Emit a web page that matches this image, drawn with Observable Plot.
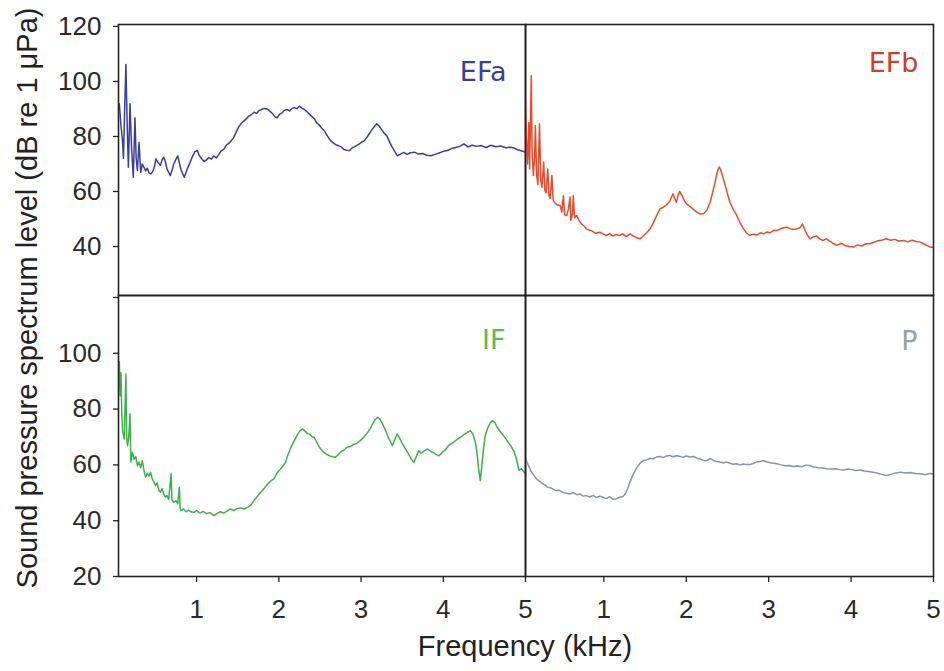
<!DOCTYPE html>
<html><head><meta charset="utf-8">
<script src="https://cdn.jsdelivr.net/npm/d3@7"></script>
<script src="https://cdn.jsdelivr.net/npm/@observablehq/plot@0.6"></script>
<style>
body{margin:0;background:#fff;}
#wrap{position:relative;width:944px;height:671px;overflow:hidden;font-family:"Liberation Sans",Arial,sans-serif;background:#fff;}
#wrap svg{position:absolute;overflow:visible;}
.ttl{position:absolute;font-size:29px;line-height:29px;color:#222;white-space:nowrap;}
</style></head><body><div id="wrap"></div>
<script>
// Frequency ticks (kHz) and level ticks (dB re 1 µPa)
const freqTicks = [1, 2, 3, 4, 5];
const topLevelTicks = [40, 60, 80, 100, 120];
const bottomLevelTicks = [20, 40, 60, 80, 100, 120];
const panelNames = ["EFa", "EFb", "IF", "P"];

// [frequency kHz, level dB]
const efa = [[0.06,91.9],[0.08,84],[0.10,78],[0.11,72],[0.125,90],[0.14,106.2],[0.155,85],[0.17,68.8],[0.18,80],[0.19,91.9],[0.21,75],[0.23,65.2],[0.25,86.8],[0.265,72],[0.28,67.6],[0.30,77.9],[0.32,67],[0.34,70],[0.36,68.8],[0.38,67.5],[0.40,68.5],[0.42,66.8],[0.445,66.4],[0.47,67.5],[0.49,69.5],[0.505,71.9],[0.53,70.5],[0.56,69.5],[0.58,71.5],[0.60,72.5],[0.62,70.8],[0.64,68.2],[0.66,67],[0.68,65.8],[0.70,67.5],[0.72,69.8],[0.745,71.5],[0.77,73],[0.79,70.5],[0.81,68],[0.83,66.5],[0.85,65.2],[0.87,66.8],[0.89,68.5],[0.92,70.5],[0.95,72.8],[0.98,74.5],[1.01,74.9],[1.03,73.2],[1.06,72],[1.09,70.9],[1.12,71.5],[1.15,72.3],[1.18,71.8],[1.21,72.9],[1.24,72.2],[1.27,73.5],[1.30,74.8],[1.33,75.3],[1.36,76.8],[1.39,77.5],[1.42,78.4],[1.45,79.6],[1.48,81.5],[1.51,83.4],[1.54,84.6],[1.57,85.5],[1.60,86.3],[1.63,87.3],[1.66,87.8],[1.70,88.8],[1.73,88.4],[1.76,89.4],[1.79,89.8],[1.82,90.2],[1.86,90.0],[1.89,89.2],[1.92,88.4],[1.95,87.2],[1.98,86.8],[2.01,88.1],[2.04,88.6],[2.07,89.5],[2.10,89.8],[2.13,89.3],[2.16,90.2],[2.19,90.5],[2.22,90.1],[2.25,91.0],[2.28,90.3],[2.31,89.8],[2.34,89.1],[2.37,88.2],[2.40,87.3],[2.43,86.5],[2.46,85.0],[2.49,84.2],[2.52,83.1],[2.55,82.2],[2.58,80.7],[2.61,79.3],[2.64,78.2],[2.67,77.5],[2.70,76.9],[2.73,76.6],[2.76,76.2],[2.79,75.3],[2.82,75.0],[2.86,74.9],[2.89,75.8],[2.92,76.2],[2.95,76.8],[2.98,77.3],[3.01,78.0],[3.04,78.5],[3.07,79.6],[3.10,81.0],[3.13,82.4],[3.16,83.5],[3.19,84.6],[3.22,83.8],[3.25,82.5],[3.28,81.2],[3.31,80.4],[3.34,78.5],[3.37,76.6],[3.40,75.0],[3.44,73.0],[3.48,73.6],[3.52,74.2],[3.56,73.5],[3.60,74.1],[3.65,74.3],[3.70,73.6],[3.75,73.8],[3.80,73.2],[3.85,73.0],[3.90,73.5],[3.95,74.0],[4.00,74.6],[4.05,74.9],[4.10,75.6],[4.15,76.0],[4.20,76.4],[4.25,77.3],[4.30,76.2],[4.35,76.8],[4.40,76.4],[4.46,76.7],[4.52,76.0],[4.58,76.8],[4.64,76.3],[4.70,76.5],[4.76,75.9],[4.82,76.1],[4.86,75.8],[4.90,75.2],[4.95,74.8],[5.00,74.3]];

const efb = [[0.05,93],[0.06,80],[0.075,70],[0.09,85],[0.10,68.2],[0.12,102.2],[0.13,75],[0.145,65.8],[0.16,72],[0.17,84],[0.185,66],[0.20,62.5],[0.22,84.6],[0.235,64],[0.25,61.5],[0.27,70.7],[0.285,60.5],[0.30,59.5],[0.32,68.2],[0.335,58.5],[0.35,57.5],[0.37,65.8],[0.385,57],[0.40,56.1],[0.43,55.2],[0.47,54.9],[0.49,52.5],[0.51,58.5],[0.525,51.5],[0.55,51.3],[0.57,53.5],[0.59,58],[0.60,49.5],[0.62,52],[0.63,58.5],[0.645,50.5],[0.67,51.3],[0.70,49.5],[0.73,48.2],[0.76,47.5],[0.79,46.4],[0.82,46.0],[0.86,45.6],[0.90,44.8],[0.95,45.2],[0.99,44.6],[1.03,44.0],[1.07,44.7],[1.11,43.8],[1.15,44.4],[1.19,44.0],[1.23,44.6],[1.27,43.6],[1.32,44.6],[1.36,43.8],[1.40,43.2],[1.44,42.8],[1.48,43.9],[1.52,45.0],[1.56,46.4],[1.60,48.5],[1.64,51.2],[1.68,53.7],[1.72,54.2],[1.76,55.1],[1.80,56.5],[1.84,59.2],[1.86,57.5],[1.88,56.1],[1.90,58.5],[1.92,60.0],[1.95,58.5],[1.98,56.5],[2.01,55.3],[2.05,54.5],[2.09,53.4],[2.13,52.5],[2.17,51.8],[2.21,51.9],[2.25,53.2],[2.29,56.1],[2.32,59.5],[2.35,63.4],[2.38,67.5],[2.40,68.9],[2.42,67.8],[2.45,64.6],[2.48,61.5],[2.51,58.2],[2.53,56.1],[2.57,53.5],[2.61,51.5],[2.65,48.8],[2.69,46.7],[2.73,45.0],[2.77,44.0],[2.81,44.5],[2.86,44.2],[2.90,45.0],[2.94,44.6],[2.98,45.3],[3.02,45.0],[3.06,45.9],[3.10,45.8],[3.14,46.4],[3.18,46.8],[3.22,47.0],[3.26,46.5],[3.30,46.2],[3.34,46.4],[3.38,46.8],[3.41,48.2],[3.44,46.0],[3.47,44.2],[3.50,42.8],[3.54,43.5],[3.58,43.8],[3.62,42.8],[3.66,42.2],[3.70,42.8],[3.75,41.8],[3.79,41.0],[3.83,40.4],[3.88,41.2],[3.93,40.3],[3.98,40.0],[4.03,39.8],[4.08,40.6],[4.13,40.2],[4.18,41.0],[4.23,41.0],[4.28,41.6],[4.33,42.1],[4.38,42.4],[4.43,42.8],[4.48,42.3],[4.53,42.6],[4.58,42.0],[4.64,42.2],[4.69,41.7],[4.74,42.3],[4.79,41.8],[4.84,41.6],[4.88,41.0],[4.92,40.4],[4.96,39.8],[5.00,39.6]];

const inf = [[0.05,88],[0.06,97],[0.07,84.8],[0.08,93],[0.09,78],[0.10,72],[0.12,69.3],[0.14,92.6],[0.15,70],[0.16,66.9],[0.175,70],[0.19,78.3],[0.20,61],[0.22,64.5],[0.24,62],[0.26,63],[0.28,59.7],[0.30,61],[0.32,59],[0.34,61.5],[0.36,58],[0.38,55.6],[0.40,57],[0.42,56],[0.44,57.4],[0.46,55],[0.48,54],[0.50,52.6],[0.52,53.5],[0.54,51],[0.56,50.2],[0.58,51.5],[0.60,49.5],[0.62,48.4],[0.64,49],[0.66,47.6],[0.69,56.8],[0.70,47.5],[0.72,46.6],[0.75,47.2],[0.77,46.0],[0.79,52.0],[0.80,44.5],[0.81,43.6],[0.84,44.2],[0.87,43.2],[0.90,43.8],[0.94,43.1],[0.97,43.0],[1.00,43.6],[1.04,42.8],[1.08,43.3],[1.12,42.5],[1.16,42.9],[1.21,41.8],[1.25,42.6],[1.29,43.2],[1.33,42.7],[1.37,43.4],[1.41,44.2],[1.45,43.6],[1.49,44.3],[1.53,44.6],[1.58,44.2],[1.62,44.8],[1.66,45.6],[1.70,47.3],[1.74,48.8],[1.78,50.2],[1.82,51.5],[1.86,53.0],[1.90,54.2],[1.94,55.0],[1.98,57.2],[2.02,58.5],[2.05,59.6],[2.08,60.9],[2.11,63.5],[2.14,65.8],[2.17,67.6],[2.20,69.3],[2.23,71.0],[2.26,72.3],[2.29,72.9],[2.32,72.0],[2.35,71.2],[2.37,71.1],[2.40,70.2],[2.43,69.9],[2.46,68.2],[2.49,66.5],[2.52,65.3],[2.55,64.5],[2.58,63.8],[2.62,63.2],[2.66,62.9],[2.69,62.7],[2.72,63.6],[2.76,64.8],[2.80,65.5],[2.83,66.3],[2.87,66.6],[2.91,67.3],[2.95,67.8],[2.99,68.7],[3.03,69.8],[3.07,71.2],[3.11,72.9],[3.14,74.6],[3.17,76.2],[3.20,77.1],[3.23,76.4],[3.26,74.8],[3.28,73.5],[3.31,71.5],[3.34,69.3],[3.38,66.9],[3.41,69.0],[3.44,71.1],[3.47,69.5],[3.50,67.8],[3.54,65.7],[3.58,63.8],[3.61,62.2],[3.64,60.9],[3.67,62.8],[3.70,65.1],[3.73,64.2],[3.77,65.0],[3.81,65.7],[3.85,64.8],[3.89,64.2],[3.92,63.6],[3.95,63.3],[3.99,64.6],[4.03,65.5],[4.06,66.8],[4.09,67.5],[4.13,68.2],[4.17,69.2],[4.21,69.9],[4.25,70.8],[4.29,71.6],[4.33,72.3],[4.36,71.0],[4.39,68.1],[4.41,64.5],[4.43,58.5],[4.45,54.4],[4.47,60.0],[4.49,66.0],[4.51,70.5],[4.54,73.2],[4.57,75.0],[4.60,75.9],[4.63,75.0],[4.66,73.2],[4.70,71.7],[4.74,70.2],[4.78,68.5],[4.82,66.9],[4.86,64.8],[4.89,62.1],[4.91,59.5],[4.92,58.0],[4.95,58.6],[4.98,57.5],[5.00,56.8]];

const pp = [[0.05,62],[0.06,61.5],[0.09,59.5],[0.12,57.5],[0.14,56.8],[0.17,55.5],[0.20,54.5],[0.23,54.0],[0.26,53.2],[0.29,52.8],[0.32,52.0],[0.35,51.8],[0.38,51.4],[0.42,50.8],[0.46,50.9],[0.50,50.2],[0.55,49.8],[0.59,49.6],[0.63,50.1],[0.67,49.3],[0.71,49.6],[0.75,48.8],[0.79,49.0],[0.83,48.5],[0.87,49.1],[0.91,48.3],[0.95,48.8],[0.99,48.4],[1.03,47.9],[1.07,48.6],[1.11,47.7],[1.15,47.8],[1.19,48.4],[1.23,48.6],[1.26,49.6],[1.29,51.5],[1.32,54.0],[1.36,56.8],[1.40,59.0],[1.44,60.6],[1.48,61.5],[1.52,61.8],[1.56,62.3],[1.60,62.2],[1.64,62.8],[1.68,63.0],[1.72,62.6],[1.76,63.2],[1.80,63.4],[1.84,62.9],[1.88,63.3],[1.92,63.1],[1.96,62.7],[2.00,63.2],[2.04,62.8],[2.09,63.0],[2.13,62.4],[2.17,62.1],[2.21,61.6],[2.25,61.5],[2.29,62.3],[2.33,61.6],[2.37,61.2],[2.41,61.0],[2.45,60.7],[2.49,61.0],[2.53,60.6],[2.57,60.2],[2.61,60.4],[2.65,60.0],[2.69,60.3],[2.73,60.1],[2.77,60.1],[2.81,60.5],[2.85,61.0],[2.89,61.2],[2.94,61.5],[2.98,61.0],[3.02,60.8],[3.06,60.6],[3.10,60.4],[3.15,60.0],[3.20,59.7],[3.25,59.8],[3.30,59.4],[3.35,59.6],[3.40,59.3],[3.45,59.9],[3.50,59.8],[3.55,59.2],[3.60,59.0],[3.65,58.9],[3.71,58.6],[3.76,58.5],[3.81,58.6],[3.86,58.3],[3.91,58.2],[3.96,58.5],[4.01,58.3],[4.06,58.0],[4.11,58.2],[4.16,57.8],[4.21,57.6],[4.27,57.4],[4.32,57.0],[4.37,56.6],[4.43,56.2],[4.48,56.6],[4.53,57.0],[4.60,57.4],[4.66,57.1],[4.72,57.3],[4.78,56.9],[4.84,56.8],[4.90,56.5],[4.95,56.9],[5.00,56.8]];

const wrap = document.getElementById("wrap");

function panel(o) {
  const marks = [];
  if (o.yTicks) marks.push(Plot.axisY({ticks: o.yTicks, tickSize: 5, tickPadding: 12, label: null,
    tickFormat: d => (o.hide120 && d === 120) ? "" : String(d), stroke: "#222", strokeWidth: 1.3}));
  if (o.xAxis) marks.push(Plot.axisX({ticks: freqTicks, tickSize: 6, tickPadding: 17, label: null,
    tickFormat: d => String(d), stroke: "#222", strokeWidth: 1.3}));
  marks.push(Plot.line(o.data, {x: d => d[0], y: d => d[1], stroke: o.color, strokeWidth: 1.5, clip: true}));
  marks.push(Plot.frame({stroke: "#222", strokeWidth: 1.6}));
  marks.push(Plot.text([o.label], {frameAnchor: "top-right", textAnchor: "end", lineAnchor: "top",
    dx: o.dx, dy: o.dy, fill: o.labelColor, fontFamily: "DejaVu Sans", fontSize: 27}));
  const svg = Plot.plot({
    width: o.width, height: o.height,
    marginLeft: o.mL, marginRight: 0, marginTop: o.mT, marginBottom: o.mB,
    x: {domain: [0.05, 5], axis: null},
    y: {domain: o.yDomain, axis: null},
    style: {fontFamily: "Liberation Sans, Arial, sans-serif", fontSize: "26px", color: "#2a2a2a", background: "transparent"},
    marks
  });
  svg.style.left = o.left + "px";
  svg.style.top = o.top + "px";
  wrap.appendChild(svg);
}

panel({data: efa, color: "#3b3d9c", label: panelNames[0], labelColor: "#3b3d9c",
  yTicks: topLevelTicks, yDomain: [22.2, 120.7], xAxis: false,
  left: 0, top: 0, width: 525, height: 295, mL: 118, mT: 24, mB: 0, dx: -19, dy: 37});
panel({data: efb, color: "#ea4a2c", label: panelNames[1], labelColor: "#cc3f28",
  yTicks: null, yDomain: [22.2, 120.7], xAxis: false,
  left: 525, top: 0, width: 408, height: 295, mL: 0, mT: 24, mB: 0, dx: -15, dy: 28});
panel({data: inf, color: "#3fb14a", label: panelNames[2], labelColor: "#58bb4e",
  yTicks: bottomLevelTicks, hide120: true, yDomain: [20, 120.7], xAxis: true,
  left: 0, top: 295, width: 525, height: 341, mL: 118, mT: 0, mB: 60, dx: -20, dy: 34});
panel({data: pp, color: "#8c949e", label: panelNames[3], labelColor: "#98a0aa",
  yTicks: null, yDomain: [20, 120.7], xAxis: true,
  left: 525, top: 295, width: 408, height: 341, mL: 0, mT: 0, mB: 60, dx: -16, dy: 35});

const yt = document.createElement("div");
yt.className = "ttl";
yt.textContent = "Sound pressure spectrum level (dB re 1 μPa)";
yt.style.left = "27px"; yt.style.top = "298px";
yt.style.transform = "translate(-50%,-50%) rotate(-90deg)";
wrap.appendChild(yt);

const xt = document.createElement("div");
xt.className = "ttl";
xt.textContent = "Frequency (kHz)";
xt.style.left = "525px"; xt.style.top = "632px";
xt.style.transform = "translateX(-50%)";
wrap.appendChild(xt);
</script></body></html>
